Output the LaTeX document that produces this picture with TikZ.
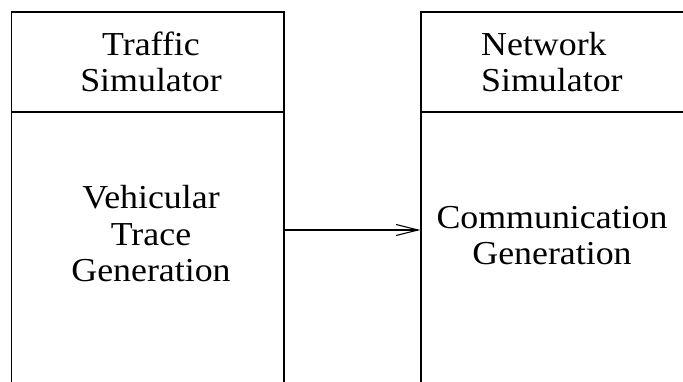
\documentclass[tikz,border=0pt]{standalone}
\usepackage{fontspec}
\setmainfont{Liberation Serif}[FakeStretch=1.07]
\usetikzlibrary{arrows.meta}

\tikzset{
  panel/.style={draw, line width=1.3pt, minimum height=436pt, inner sep=0pt},
  label/.style={font=\fontsize{33.5}{36.5}\selectfont, inner sep=0pt},
  link/.style={line width=1.2pt, -{Straight Barb[length=22pt,width=11pt,line width=1.1pt]}}
}

\begin{document}
\begin{tikzpicture}[x=1pt,y=1pt]
  \clip (0,0) rectangle (683,382);
  \useasboundingbox (0,0) rectangle (683,382);

  % two simulator panels, running past the lower edge
  \node[panel, minimum width=272.5pt] (lbox) at (147.75,152) {};
  \node[panel, minimum width=300pt] (rbox) at (571,152) {};

  % header separators
  \coordinate (cut) at (0,270);
  \draw[line width=1.3pt] (lbox.west |- cut) -- (lbox.east |- cut);
  \draw[line width=1.3pt] (rbox.west |- cut) -- (rbox.east |- cut);

  % headers (anchored on the baseline of the last line)
  \node[label, align=center, anchor=base] (ttl) at (151,290) {Traffic\\Simulator};
  \node[label, align=left, anchor=base west] (ntl) at (481,290) {Network\\Simulator};

  % panel contents
  \node[label, align=center, anchor=base] (vtg) at (151,100) {Vehicular\\Trace\\Generation};
  \node[label, align=center, anchor=base] (cgn) at (552,117) {Communication\\Generation};

  % data flow
  \draw[link] (lbox.east) -- (rbox.west);
\end{tikzpicture}
\end{document}
